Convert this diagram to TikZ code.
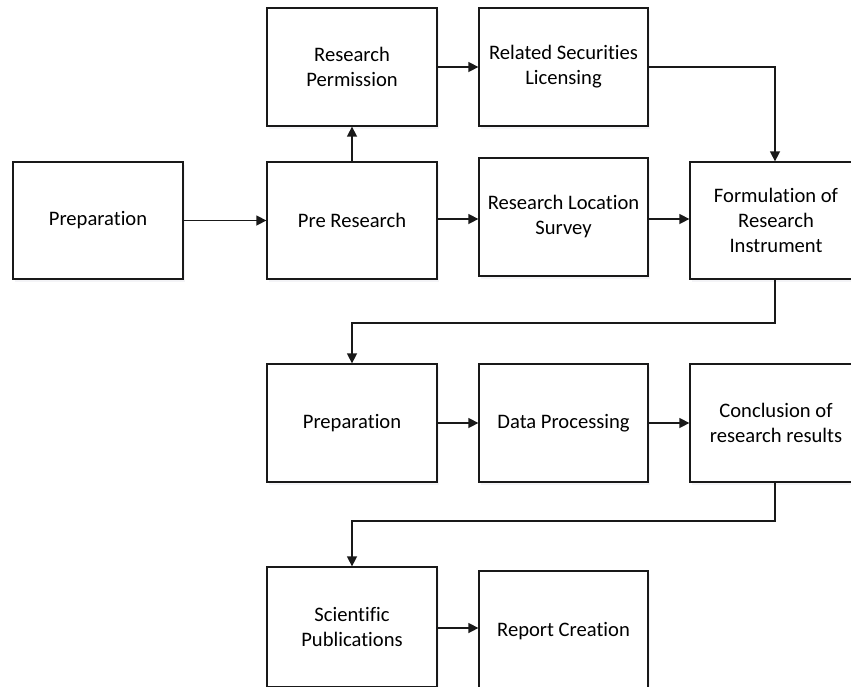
\documentclass[tikz,border=0pt]{standalone}
\usepackage{fontspec}
\setmainfont[Ligatures=CommonOff]{Carlito}
\usetikzlibrary{arrows.meta,shadows}
\tikzset{
  box/.style={draw=black!90, line width=1.3pt, fill=white, inner sep=0pt,
    minimum width=170pt, minimum height=117pt, align=center,
    font=\fontsize{20.6pt}{25pt}\selectfont,
    drop shadow={shadow xshift=2pt, shadow yshift=-3pt, fill=blue!20!gray!12, opacity=0.6}},
  conn/.style={draw=black!90, line width=1.5pt, -{Triangle[length=10pt,width=10pt]}}
}
\begin{document}
\begin{tikzpicture}[x=1pt,y=-1pt]
\useasboundingbox[fill=white] (0,0) rectangle (851,686);
\node[box] (prepA) at (98,220.5) {Preparation};
\node[box, minimum height=118pt] (perm) at (352,67) {Research\\Permission};
\node[box, minimum width=169pt, minimum height=118pt] (lic) at (563.5,67) {Related Securities\\Licensing};
\node[box] (pre) at (352,220.5) {Pre Research};
\node[box, minimum width=169pt, minimum height=118pt] (survey) at (563.5,217) {Research Location\\Survey};
\node[box, minimum width=172pt] (form) at (776,220.5) {Formulation of\\Research\\Instrument};
\node[box, minimum height=118pt] (prepB) at (352,423) {Preparation};
\node[box, minimum width=169pt, minimum height=118pt] (data) at (563.5,423) {Data Processing};
\node[box, minimum width=172pt, minimum height=118pt] (concl) at (776,423) {Conclusion of\\research results};
\node[box, minimum height=120pt] (sci) at (352,627) {Scientific\\Publications};
\node[box, minimum width=169pt, minimum height=120pt] (report) at (563.5,631) {Report Creation};

\coordinate (k1) at (775,67);
\coordinate (k2) at (775,323);
\coordinate (k3) at (352,323);
\coordinate (k4) at (775,521);
\coordinate (k5) at (352,521);

\draw[conn] (prepA.east) -- (pre.west);
\draw[conn] (pre.north) -- (perm.south);
\draw[conn] (perm.east) -- (lic.west);
\draw[conn] (lic.east) -- (k1) -- (k1 |- form.north);
\draw[conn] (pre.east |- 0,219) -- (survey.west |- 0,219);
\draw[conn] (survey.east |- 0,219) -- (form.west |- 0,219);
\draw[conn] (form.south -| k2) -- (k2) -- (k3) -- (prepB.north);
\draw[conn] (prepB.east) -- (data.west);
\draw[conn] (data.east) -- (concl.west);
\draw[conn] (concl.south -| k4) -- (k4) -- (k5) -- (sci.north);
\draw[conn] (sci.east |- 0,628) -- (report.west |- 0,628);
\end{tikzpicture}
\end{document}
